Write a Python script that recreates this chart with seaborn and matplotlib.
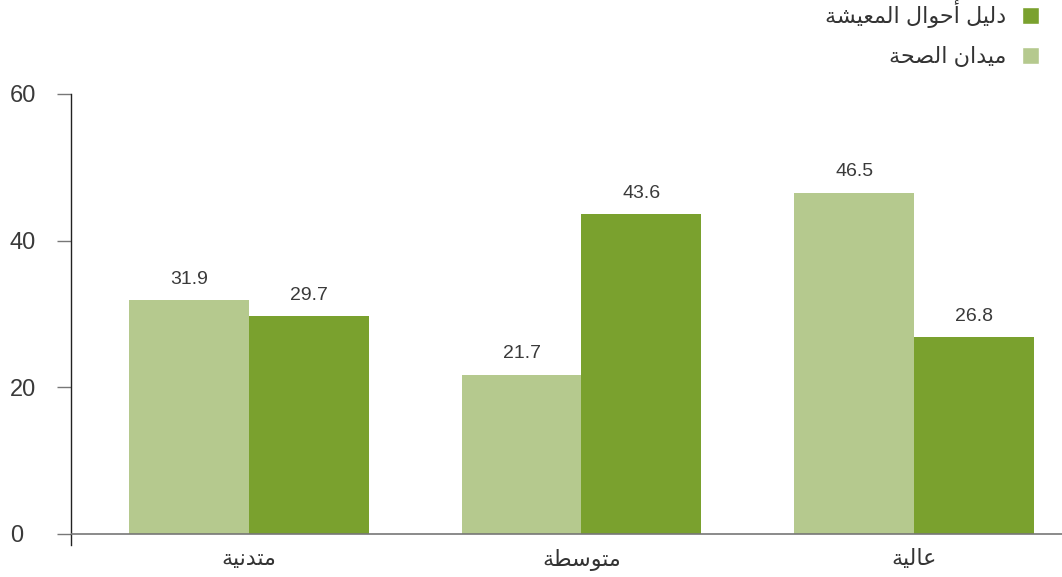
import pandas as pd
import numpy as np
import matplotlib
matplotlib.use("Agg")
import matplotlib.pyplot as plt
import seaborn as sns
from matplotlib.patches import Patch

# data
categories = ["متدنية", "متوسطة", "عالية"]
series_names = ["ميدان الصحة", "دليل أحوال المعيشة"]
health_values = [31.9, 21.7, 46.5]
living_values = [29.7, 43.6, 26.8]
y_ticks = [0, 20, 40, 60]

light_green = "#b5c98e"
dark_green = "#7aa12e"

# matplotlib does no Arabic shaping, so join the letters by hand
# (isolated, final, initial, medial)
FORMS = {
    "ا": ("\uFE8D", "\uFE8E", None, None),
    "أ": ("\uFE83", "\uFE84", None, None),
    "ة": ("\uFE93", "\uFE94", None, None),
    "د": ("\uFEA9", "\uFEAA", None, None),
    "و": ("\uFEED", "\uFEEE", None, None),
    "ت": ("\uFE95", "\uFE96", "\uFE97", "\uFE98"),
    "ح": ("\uFEA1", "\uFEA2", "\uFEA3", "\uFEA4"),
    "س": ("\uFEB1", "\uFEB2", "\uFEB3", "\uFEB4"),
    "ش": ("\uFEB5", "\uFEB6", "\uFEB7", "\uFEB8"),
    "ص": ("\uFEB9", "\uFEBA", "\uFEBB", "\uFEBC"),
    "ط": ("\uFEC1", "\uFEC2", "\uFEC3", "\uFEC4"),
    "ع": ("\uFEC9", "\uFECA", "\uFECB", "\uFECC"),
    "ل": ("\uFEDD", "\uFEDE", "\uFEDF", "\uFEE0"),
    "م": ("\uFEE1", "\uFEE2", "\uFEE3", "\uFEE4"),
    "ن": ("\uFEE5", "\uFEE6", "\uFEE7", "\uFEE8"),
    "ي": ("\uFEF1", "\uFEF2", "\uFEF3", "\uFEF4"),
}


def shape(text):
    out = []
    for i, ch in enumerate(text):
        if ch not in FORMS:
            out.append(ch)
            continue
        prev = text[i - 1] if i > 0 else ""
        nxt = text[i + 1] if i + 1 < len(text) else ""
        join_prev = prev in FORMS and FORMS[prev][2] is not None
        join_next = nxt in FORMS and FORMS[ch][2] is not None
        iso, fin, ini, med = FORMS[ch]
        if join_prev and join_next:
            out.append(med)
        elif join_prev:
            out.append(fin)
        elif join_next:
            out.append(ini)
        else:
            out.append(iso)
    return "".join(out)[::-1]


df = pd.DataFrame({
    "category": categories * 2,
    "series": [series_names[0]] * 3 + [series_names[1]] * 3,
    "value": health_values + living_values,
})

sns.set_style("white")
plt.rcParams["font.family"] = ["Liberation Sans", "DejaVu Sans"]

fig = plt.figure(figsize=(10.62, 5.77), dpi=100)
ax = fig.add_axes([71 / 1062, 32 / 577, 1 - 71 / 1062, (545 - 94) / 577])

sns.barplot(data=df, x="category", y="value", hue="series",
            order=categories, hue_order=series_names,
            palette=[light_green, dark_green], width=0.72,
            saturation=1, legend=False, linewidth=0, ax=ax)

for cont in ax.containers:
    ax.bar_label(cont, fmt="%.1f", padding=9, fontsize=14, color="#3a3a3a")

ax.set_xlim(-0.535, 2.445)
ax.set_ylim(-1.5, 60)
ax.set_yticks(y_ticks)
ax.set_yticklabels([str(t) for t in y_ticks], fontsize=17, color="#3a3a3a", ha="left")
ax.set_xticks(range(len(categories)))
ax.set_xticklabels([shape(c) for c in categories], fontsize=16, color="#333333")
ax.tick_params(axis="y", length=10, width=1, color="#777777", pad=34, direction="out", left=True)
ax.tick_params(axis="x", length=0, pad=3)
ax.set_xlabel("")
ax.set_ylabel("")

for s in ["top", "right", "bottom"]:
    ax.spines[s].set_visible(False)
ax.spines["left"].set_color("#222222")
ax.spines["left"].set_linewidth(1)
ax.axhline(0, color="#777777", lw=1.2, zorder=3)

handles = [Patch(facecolor=dark_green, label=shape(series_names[1])),
           Patch(facecolor=light_green, label=shape(series_names[0]))]
fig.legend(handles=handles, loc="upper right", bbox_to_anchor=(0.997, 1.034),
           markerfirst=False, frameon=False, fontsize=16,
           handlelength=0.75, handleheight=0.75, labelspacing=0.85,
           handletextpad=0.7, labelcolor="#333333")

plt.savefig("out.png", dpi=100)
